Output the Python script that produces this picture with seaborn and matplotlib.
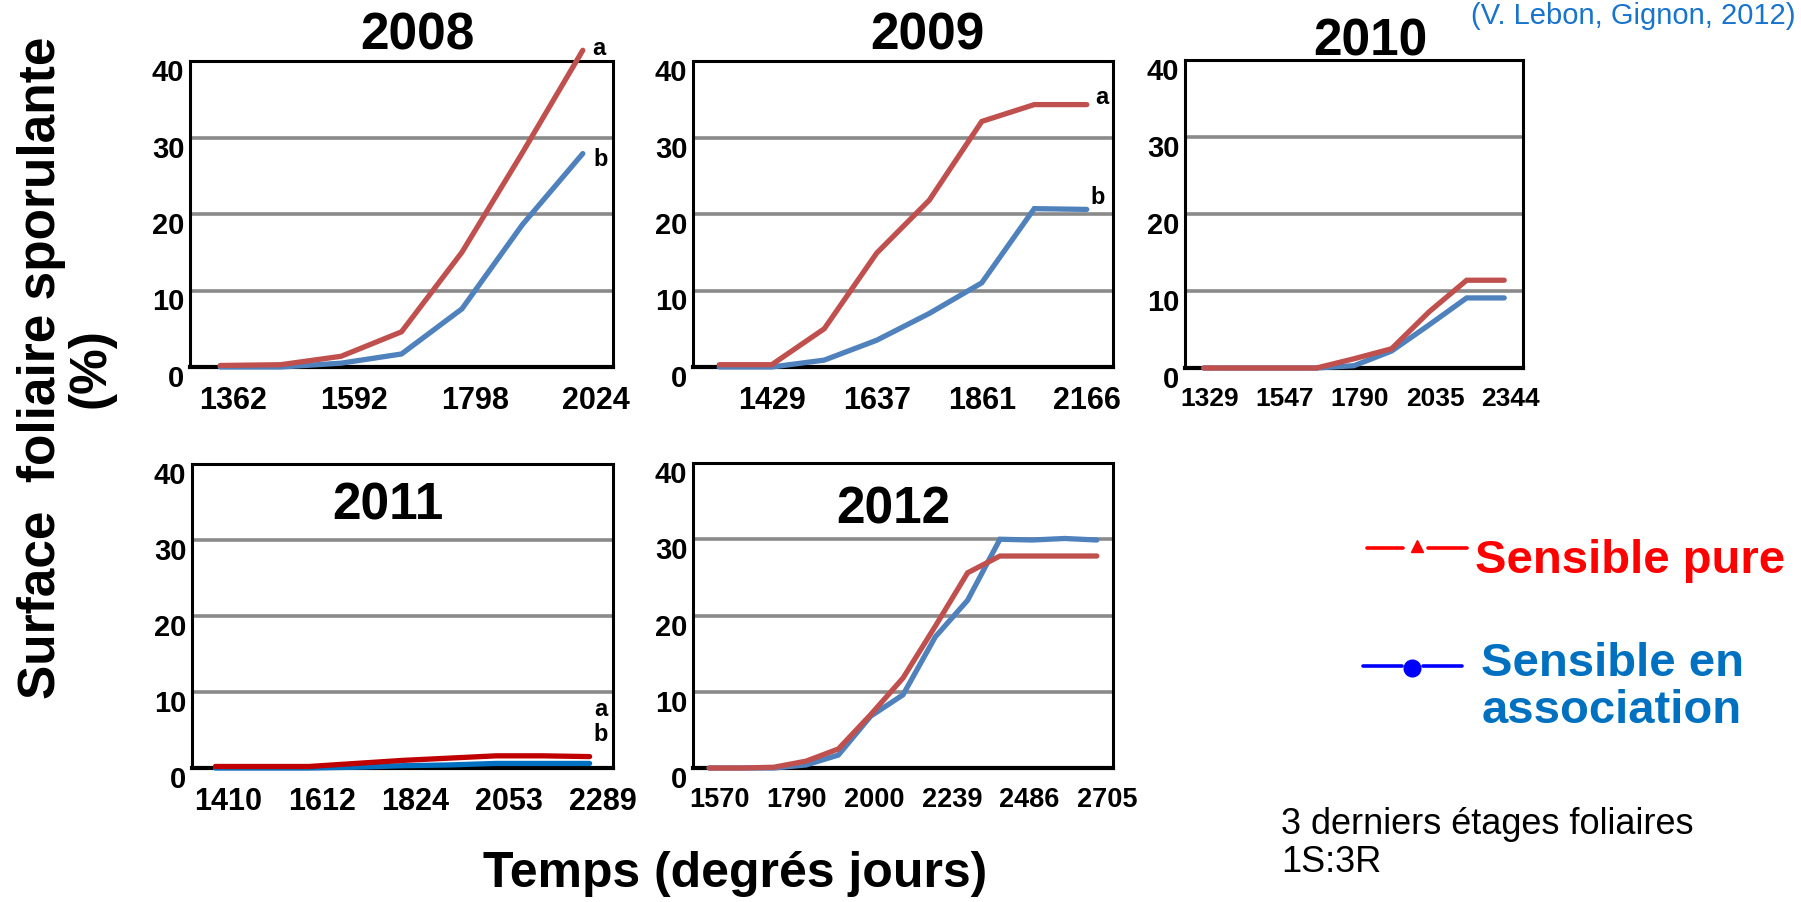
import numpy as np
import pandas as pd
import matplotlib
matplotlib.use("Agg")
import matplotlib.pyplot as plt
from matplotlib.lines import Line2D
from matplotlib.transforms import ScaledTranslation
import seaborn as sns

sns.set_theme(style="white")
plt.rcParams["font.family"] = ["Liberation Sans", "DejaVu Sans"]
plt.rcParams["text.color"] = "black"
plt.rcParams["xtick.color"] = "black"
plt.rcParams["ytick.color"] = "black"
plt.rcParams["xtick.labelcolor"] = "black"
plt.rcParams["ytick.labelcolor"] = "black"

# ---- data: % sporulating leaf area on the 3 upper leaf layers ----
years = ["2008", "2009", "2010", "2011", "2012"]

pure_2008 = [0.2, 0.3, 1.4, 4.6, 15.0, 28.0, 41.4]
assoc_2008 = [0.0, 0.0, 0.5, 1.7, 7.6, 18.6, 27.9]
ticks_2008 = ["1362", "1592", "1798", "2024"]

pure_2009 = [0.3, 0.3, 5.0, 14.9, 21.8, 32.1, 34.3, 34.3]
assoc_2009 = [0.0, 0.0, 0.9, 3.5, 7.0, 11.0, 20.7, 20.6]
ticks_2009 = ["1429", "1637", "1861", "2166"]

pure_2010 = [0.0, 0.0, 0.0, 0.0, 1.2, 2.5, 7.3, 11.4, 11.4]
assoc_2010 = [0.0, 0.0, 0.0, 0.0, 0.3, 2.2, 5.6, 9.1, 9.1]
ticks_2010 = ["1329", "1547", "1790", "2035", "2344"]

pure_2011 = [0.2, 0.2, 0.2, 0.6, 1.0, 1.3, 1.6, 1.6, 1.5]
assoc_2011 = [0.0, 0.0, 0.0, 0.1, 0.3, 0.4, 0.6, 0.6, 0.6]
ticks_2011 = ["1410", "1612", "1824", "2053", "2289"]

pure_2012 = [0.0, 0.0, 0.1, 0.9, 2.5, 7.0, 11.8, 18.6, 25.6, 27.8, 27.8, 27.8, 27.8]
assoc_2012 = [0.0, 0.0, 0.0, 0.4, 1.7, 6.8, 9.6, 17.2, 22.0, 30.0, 29.9, 30.1, 29.9]
ticks_2012 = ["1570", "1790", "2000", "2239", "2486", "2705"]

letters_2008 = ["a", "b"]
letters_2009 = ["a", "b"]
letters_2011 = ["a", "b"]

y_ticks = [0, 10, 20, 30, 40]

series_names = ["Sensible pure", "Sensible en association"]

W, H = 1801, 902
fig = plt.figure(figsize=(W / 100, H / 100), dpi=100)


def px_axes(x0, y0, x1, y1):
    return fig.add_axes([x0 / W, 1 - y1 / H, (x1 - x0) / W, (y1 - y0) / H])


panels = [
    dict(year="2008", pure=pure_2008, assoc=assoc_2008, ticks=ticks_2008, first=0,
         box=(190, 61, 613, 367), shift=13, tsize=22,
         colors=("#C0504D", "#4F81BD"), title=(417, 50),
         letters=letters_2008, loff=((16, 2), (18, -6))),
    dict(year="2009", pure=pure_2009, assoc=assoc_2009, ticks=ticks_2009, first=1,
         box=(693, 61, 1113, 367), shift=0, tsize=22,
         colors=("#C0504D", "#4F81BD"), title=(927, 50),
         letters=letters_2009, loff=((15, 7), (11, 12))),
    dict(year="2010", pure=pure_2010, assoc=assoc_2010, ticks=ticks_2010, first=0,
         box=(1185, 60, 1523, 368), shift=6, tsize=19,
         colors=("#C0504D", "#4F81BD"), title=(1370, 55),
         letters=None, loff=None),
    dict(year="2011", pure=pure_2011, assoc=assoc_2011, ticks=ticks_2011, first=0,
         box=(192, 464, 613, 768), shift=13, tsize=22,
         colors=("#C00000", "#0070C0"), title=(388, 520),
         letters=letters_2011, loff=((11, 47), (11, 29))),
    dict(year="2012", pure=pure_2012, assoc=assoc_2012, ticks=ticks_2012, first=0,
         box=(693, 463, 1113, 768), shift=10, tsize=19.5,
         colors=("#C0504D", "#4F81BD"), title=(893, 523),
         letters=None, loff=None),
]

for p in panels:
    ax = px_axes(*p["box"])
    n = len(p["pure"])
    df = pd.DataFrame({
        "cat": list(range(n)) * 2,
        "val": list(p["pure"]) + list(p["assoc"]),
        "serie": [series_names[0]] * n + [series_names[1]] * n,
    })
    sns.lineplot(data=df, x="cat", y="val", hue="serie", hue_order=series_names[::-1],
                 palette={series_names[0]: p["colors"][0], series_names[1]: p["colors"][1]},
                 linewidth=3.8, legend=False, ax=ax, zorder=3)
    for ln in ax.lines:
        ln.set_clip_on(False)
        ln.set_solid_joinstyle("miter")

    ax.set_xlim(-0.5, n - 0.5)
    ax.set_ylim(0, 40)
    ax.set_xlabel("")
    ax.set_ylabel("")

    # horizontal gridlines
    for yv in y_ticks[1:]:
        ax.axhline(yv, color="#8a8a8a", lw=2.6, zorder=1)

    # y axis
    ax.set_yticks(y_ticks)
    ax.set_yticklabels([str(v) for v in y_ticks], fontsize=21, fontweight="bold")
    ax.tick_params(axis="y", length=4, width=2, color="#8a8a8a", pad=0)
    for lab in ax.get_yticklabels():
        lab.set_transform(lab.get_transform() + ScaledTranslation(0, -9 / 100, fig.dpi_scale_trans))

    # x axis: category boundaries as small tick marks, labels spread across the categories
    ax.set_xticks(np.arange(-0.5, n, 1.0), minor=True)
    ax.tick_params(axis="x", which="minor", length=6, width=2.5, color="black", direction="out")
    nt = len(p["ticks"])
    pos = np.linspace(p["first"], n - 1, nt)
    ax.set_xticks(pos)
    ax.set_xticklabels(p["ticks"], fontsize=p["tsize"], fontweight="bold")
    ax.tick_params(axis="x", which="major", length=0, pad=14)
    for lab in ax.get_xticklabels():
        lab.set_transform(lab.get_transform() + ScaledTranslation(p["shift"] / 100, 0, fig.dpi_scale_trans))

    for s in ["left", "right", "top", "bottom"]:
        ax.spines[s].set_visible(True)
        ax.spines[s].set_color("black")
        ax.spines[s].set_linewidth(2.2)
    ax.spines["bottom"].set_linewidth(3.0)
    ax.set_facecolor("white")

    # year title
    tx, ty = p["title"]
    fig.text(tx / W, 1 - ty / H, p["year"], fontsize=37, fontweight="bold",
             ha="center", va="baseline")

    # significance letters
    if p["letters"]:
        for vals, let, off in zip((p["pure"], p["assoc"]), p["letters"], p["loff"]):
            ax.annotate(let, xy=(n - 1, vals[-1]), xytext=off, textcoords="offset pixels",
                        ha="center", va="center", fontsize=17, fontweight="bold",
                        annotation_clip=False)

# axis titles
fig.text(66 / W, 1 - 368 / H, "Surface  foliaire sporulante\n(%)", rotation=90,
         fontsize=37, fontweight="bold", ha="center", va="center",
         multialignment="center", linespacing=1.0)
fig.text(735 / W, 1 - 887 / H, "Temps (degrés jours)", fontsize=36,
         fontweight="bold", ha="center", va="baseline")

# legend drawn by hand
red, blue = "#FF0000", "#0000FF"
fig.add_artist(Line2D([1367 / W, 1403 / W], [1 - 548 / H] * 2, color=red, lw=2.6,
                      transform=fig.transFigure, solid_capstyle="round"))
fig.add_artist(Line2D([1428 / W, 1467 / W], [1 - 548 / H] * 2, color=red, lw=2.6,
                      transform=fig.transFigure, solid_capstyle="round"))
fig.add_artist(Line2D([1417 / W], [1 - 546 / H], color=red, marker="^", ms=9, lw=0,
                      transform=fig.transFigure))
fig.add_artist(Line2D([1363 / W, 1402 / W], [1 - 666 / H] * 2, color=blue, lw=2.6,
                      transform=fig.transFigure, solid_capstyle="round"))
fig.add_artist(Line2D([1423 / W, 1462 / W], [1 - 666 / H] * 2, color=blue, lw=2.6,
                      transform=fig.transFigure, solid_capstyle="round"))
fig.add_artist(Line2D([1412 / W], [1 - 668 / H], color=blue, marker="o", ms=12, lw=0,
                      transform=fig.transFigure))
fig.text(1475 / W, 1 - 573 / H, "Sensible pure", color="#FF0000", fontsize=34,
         fontweight="bold", ha="left", va="baseline")
fig.text(1612 / W, 1 - 723 / H, "Sensible en\nassociation", color="#0070C0", fontsize=34,
         fontweight="bold", ha="center", va="baseline", multialignment="center",
         linespacing=1.1)

# notes
fig.text(1281 / W, 1 - 834 / H, "3 derniers étages foliaires", fontsize=26,
         ha="left", va="baseline")
fig.text(1281 / W, 1 - 872 / H, "1S:3R", fontsize=26, ha="left", va="baseline")
fig.text(1795 / W, 1 - 24 / H, "(V. Lebon, Gignon, 2012)", fontsize=21,
         color="#1874CD", ha="right", va="baseline")

fig.savefig("out.png", dpi=100, facecolor="white")
